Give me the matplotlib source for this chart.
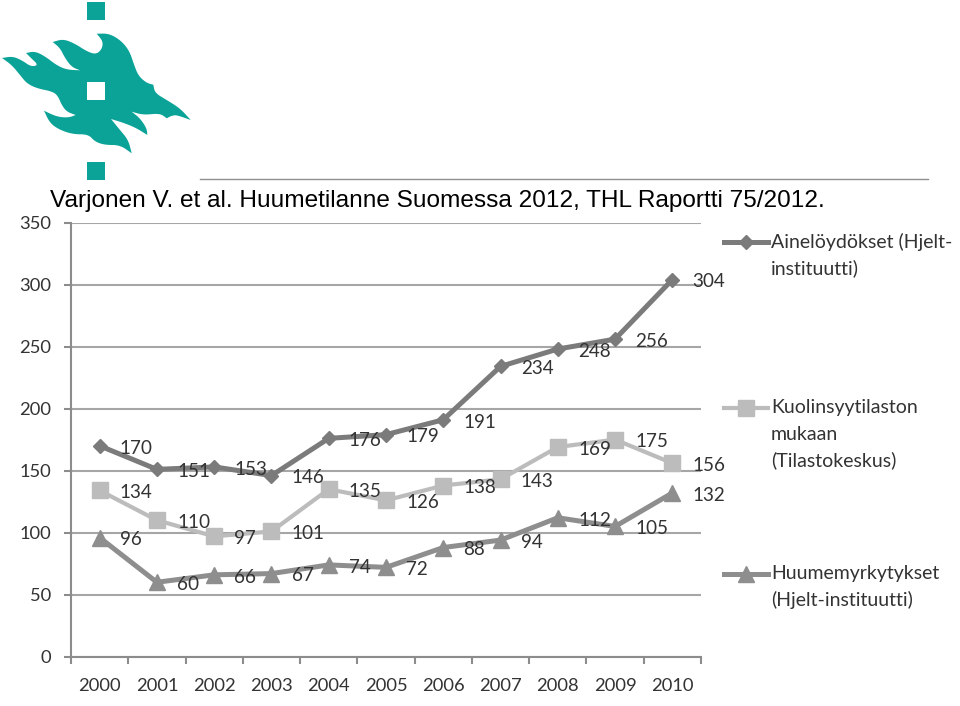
import matplotlib
matplotlib.use('Agg')
import matplotlib.pyplot as plt
from matplotlib.patches import Polygon, Rectangle

# data
years = ['2000', '2001', '2002', '2003', '2004', '2005', '2006', '2007', '2008', '2009', '2010']
ainel = [170, 151, 153, 146, 176, 179, 191, 234, 248, 256, 304]
kuolin = [134, 110, 97, 101, 135, 126, 138, 143, 169, 175, 156]
huume = [96, 60, 66, 67, 74, 72, 88, 94, 112, 105, 132]
yticks = [0, 50, 100, 150, 200, 250, 300, 350]

W, H = 960, 706
TEXT = '#333333'
AXIS = '#8c8c8c'

# logo outline in pixels, one list per edge between two sharp tips
logo_edges = [
    [(2, 58), (13, 56.3), (23, 61), (30, 66), (36, 66), (37, 63.7), (31.7, 58.7), (26, 53)],
    [(26, 53), (35, 51.3), (45, 56.3), (56.7, 65.3), (66.7, 69.7), (80, 70.3)],
    [(80, 70.3), (71.7, 67), (65, 58), (60, 48), (52.7, 42)],
    [(52.7, 42), (63.3, 39), (75, 43.7), (86.7, 51.3), (96, 54.5), (102, 49), (103, 41.3), (96.7, 33.7)],
    [(96.7, 33.7), (109, 33.5), (121, 40.5), (129.5, 51), (134, 64.7), (138.5, 76), (146.7, 83), (153.3, 84.7)],
    [(153.3, 84.7), (155, 93), (166.7, 100), (180, 108.3), (190.7, 120)],
    [(190.7, 120), (176.7, 115), (171.7, 115.7), (166.7, 118.3)],
    [(166.7, 118.3), (160, 113.3), (143.3, 115), (131.7, 111.7)],
    [(131.7, 111.7), (140, 118.3), (146.7, 128.3), (147.3, 135)],
    [(147.3, 135), (136.7, 128.3), (125, 123.3), (111, 119)],
    [(111, 119), (120, 130), (128.3, 140), (131.7, 153.3)],
    [(131.7, 153.3), (120, 145), (105, 145), (95, 141.7), (88.3, 134.3), (73.3, 134.3), (60, 130), (50, 123.3), (44, 110.7)],
    [(44, 110.7), (56.7, 116.7), (68.3, 117.7), (75.7, 115)],
    [(75.7, 115), (66.7, 111.7), (61.7, 105), (58.3, 96.7), (53.3, 91.7), (36.7, 88.3), (26.7, 83.3), (20, 75), (11.7, 65), (2, 58)],
]


# corner cutting, the end points stay where they are
def smooth(points, rounds=3):
    for _ in range(rounds):
        new = [points[0]]
        for (x0, y0), (x1, y1) in zip(points[:-1], points[1:]):
            new.append((0.75 * x0 + 0.25 * x1, 0.75 * y0 + 0.25 * y1))
            new.append((0.25 * x0 + 0.75 * x1, 0.25 * y0 + 0.75 * y1))
        new.append(points[-1])
        points = new
    return points


plt.rcParams['font.family'] = ['Lato', 'DejaVu Sans']
fig = plt.figure(figsize=(W / 100, H / 100), dpi=100)

# overlay in pixel coordinates for the logo, rule, title and legend
bg = fig.add_axes([0, 0, 1, 1])
bg.set_xlim(0, W)
bg.set_ylim(H, 0)
bg.axis('off')

teal = '#0ba398'
outline = []
for edge in logo_edges:
    outline += smooth(edge)
bg.add_patch(Polygon(outline, closed=True, fc=teal, ec='none'))
bg.add_patch(Rectangle((87.3, 2.3), 18, 17.7, fc=teal, ec='none'))
bg.add_patch(Rectangle((87.3, 162.3), 18, 17.7, fc=teal, ec='none'))
bg.add_patch(Rectangle((87.3, 82.3), 18, 17.7, fc='white', ec='none'))

bg.plot([200, 928], [178.5, 178.5], color='#8f8f8f', lw=1)
bg.text(50, 206.5, 'Varjonen V. et al. Huumetilanne Suomessa 2012, THL Raportti 75/2012.',
        family='Liberation Sans', fontsize=17.57, color='black', va='baseline', ha='left')

# chart
ax = fig.add_axes([71 / W, 1 - 656.7 / H, 630 / W, 434.2 / H])
ax.patch.set_alpha(0)
ax.set_xlim(-0.5, 10.5)
ax.set_ylim(0, 350)
ax.set_yticks(yticks)
ax.set_xticks([i - 0.5 for i in range(12)])
ax.set_xticklabels([])
ax.tick_params(length=5, width=1.5, color=AXIS)
ax.tick_params(axis='y', labelsize=13.2, labelcolor=TEXT, pad=9)
ax.set_xticks(range(11), years, minor=True)
ax.tick_params(axis='x', which='minor', length=0, pad=15.5, labelsize=13.2, labelcolor=TEXT)
ax.grid(axis='y', color='#a6a6a6', lw=1.5)
ax.set_axisbelow(True)
for s in ['top', 'right']:
    ax.spines[s].set_visible(False)
for s in ['left', 'bottom']:
    ax.spines[s].set_color(AXIS)
    ax.spines[s].set_linewidth(1.5)

series = [(ainel, '#7b7b7b', 'D', 7.6, 3.6),
          (kuolin, '#bcbcbc', 's', 11.5, 3),
          (huume, '#8e8e8e', '^', 11.5, 3.6)]
xs = list(range(11))
for vals, col, mk, ms, lw in series:
    ax.plot(xs, vals, color=col, lw=lw, marker=mk, ms=ms, mec=col, mfc=col, clip_on=False)
    for x, v in zip(xs, vals):
        ax.annotate(str(v), (x, v), xytext=(14.5, -1.7), textcoords='offset points',
                    ha='left', va='center', fontsize=13.6, color=TEXT)

# legend drawn by hand, it sits outside the axes
legend = [(242, '#7b7b7b', 'D', 7.6, 3.6, ['Ainelöydökset (Hjelt-', 'instituutti)']),
          (408, '#bcbcbc', 's', 11.5, 3, ['Kuolinsyytilaston', 'mukaan', '(Tilastokeskus)']),
          (574, '#8e8e8e', '^', 11.5, 3.6, ['Huumemyrkytykset', '(Hjelt-instituutti)'])]
for y, col, mk, ms, lw, lines in legend:
    bg.plot([724, 768], [y, y], color=col, lw=lw)
    bg.plot([746], [y], marker=mk, ms=ms, color=col, mec=col)
    for i, line in enumerate(lines):
        bg.text(771, y + i * 26, line, fontsize=14, color=TEXT, va='center', ha='left')

fig.savefig('out.png', dpi=100)
